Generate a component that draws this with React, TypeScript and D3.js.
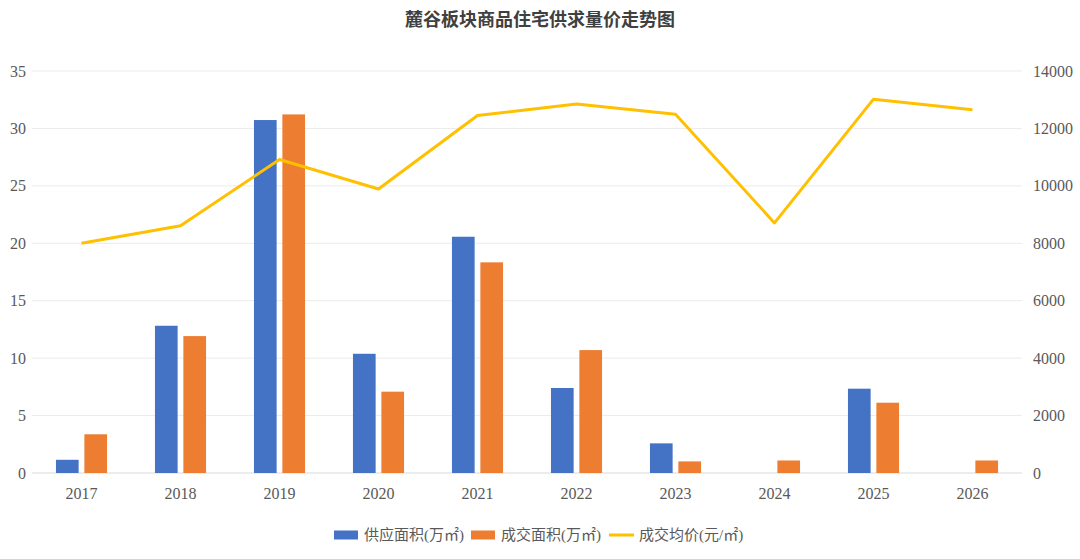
import React from 'react';
import * as d3 from 'd3';

const years = ['2017', '2018', '2019', '2020', '2021', '2022', '2023', '2024', '2025', '2026'];
const supplyArea = [1.15, 12.82, 30.73, 10.38, 20.57, 7.4, 2.58, 0, 7.34, 0];
const dealArea = [3.37, 11.92, 31.22, 7.08, 18.34, 10.7, 1.01, 1.09, 6.12, 1.09];
const avgPrice = [8000, 8610, 10920, 9890, 12450, 12850, 12490, 8710, 13020, 12650];
const leftTicks = [0, 5, 10, 15, 20, 25, 30, 35];
const rightTicks = [0, 2000, 4000, 6000, 8000, 10000, 12000, 14000];

const W = 1080;
const H = 559;
const margin = { top: 71, right: 58, bottom: 86, left: 32 };
const FONT = '"Liberation Serif", "Noto Sans CJK SC", serif';
const BLUE = '#4472C4';
const ORANGE = '#ED7D31';
const YELLOW = '#FFC000';

const App: React.FC = () => {
  const innerW = W - margin.left - margin.right;
  const innerH = H - margin.top - margin.bottom;

  const x = d3.scaleBand<string>().domain(years).range([0, innerW]);
  const yL = d3.scaleLinear().domain([0, 35]).range([innerH, 0]);
  const yR = d3.scaleLinear().domain([0, 14000]).range([innerH, 0]);

  const bw = x.bandwidth();
  const barW = bw * 0.229;
  const gap = bw * 0.058;

  const line = d3.line<number>()
    .x((_, i) => (x(years[i]) ?? 0) + bw / 2)
    .y(d => yR(d));

  const legend = [
    { label: '供应面积(万㎡)', color: BLUE, kind: 'rect', x: 334 },
    { label: '成交面积(万㎡)', color: ORANGE, kind: 'rect', x: 471 },
    { label: '成交均价(元/㎡)', color: YELLOW, kind: 'line', x: 609 },
  ];

  return (
    <svg width={W} height={H} style={{ position: 'absolute', left: 0, top: 0, background: '#fff' }}>
      <text x={540} y={26} textAnchor="middle" fontFamily={FONT} fontSize={18} fontWeight="bold" fill="#404040">
        麓谷板块商品住宅供求量价走势图
      </text>
      <g transform={`translate(${margin.left},${margin.top})`}>
        {leftTicks.map(t => (
          <line key={t} x1={0} x2={innerW} y1={yL(t)} y2={yL(t)}
            stroke={t === 0 ? '#d9d9d9' : '#ebebeb'} strokeWidth={1} />
        ))}
        {leftTicks.map(t => (
          <text key={t} x={-6} y={yL(t)} dy="0.35em" textAnchor="end"
            fontFamily={FONT} fontSize={16} fill="#595959">{t}</text>
        ))}
        {rightTicks.map(t => (
          <text key={t} x={innerW + 11} y={yR(t)} dy="0.35em" textAnchor="start"
            fontFamily={FONT} fontSize={16} fill="#595959">{t}</text>
        ))}
        {years.map(y => (
          <text key={y} x={(x(y) ?? 0) + bw / 2} y={innerH + 26} textAnchor="middle"
            fontFamily={FONT} fontSize={16} fill="#595959">{y}</text>
        ))}
        {years.map((y, i) => {
          const cx = (x(y) ?? 0) + bw / 2;
          return (
            <g key={y}>
              {supplyArea[i] > 0 && (
                <rect x={cx - gap / 2 - barW} y={yL(supplyArea[i])} width={barW}
                  height={innerH - yL(supplyArea[i])} fill={BLUE} />
              )}
              {dealArea[i] > 0 && (
                <rect x={cx + gap / 2} y={yL(dealArea[i])} width={barW}
                  height={innerH - yL(dealArea[i])} fill={ORANGE} />
              )}
            </g>
          );
        })}
        <path d={line(avgPrice) ?? ''} fill="none" stroke={YELLOW} strokeWidth={3} strokeLinejoin="round" />
      </g>
      {legend.map(l => (
        <g key={l.label} transform={`translate(${l.x},535)`}>
          {l.kind === 'rect'
            ? <rect x={0} y={-4.5} width={24} height={9} fill={l.color} />
            : <line x1={0} x2={25} y1={0} y2={0} stroke={l.color} strokeWidth={3} />}
          <text x={30} y={0} dy="0.35em" fontFamily={FONT} fontSize={15} fill="#595959">{l.label}</text>
        </g>
      ))}
    </svg>
  );
};

export default App;
